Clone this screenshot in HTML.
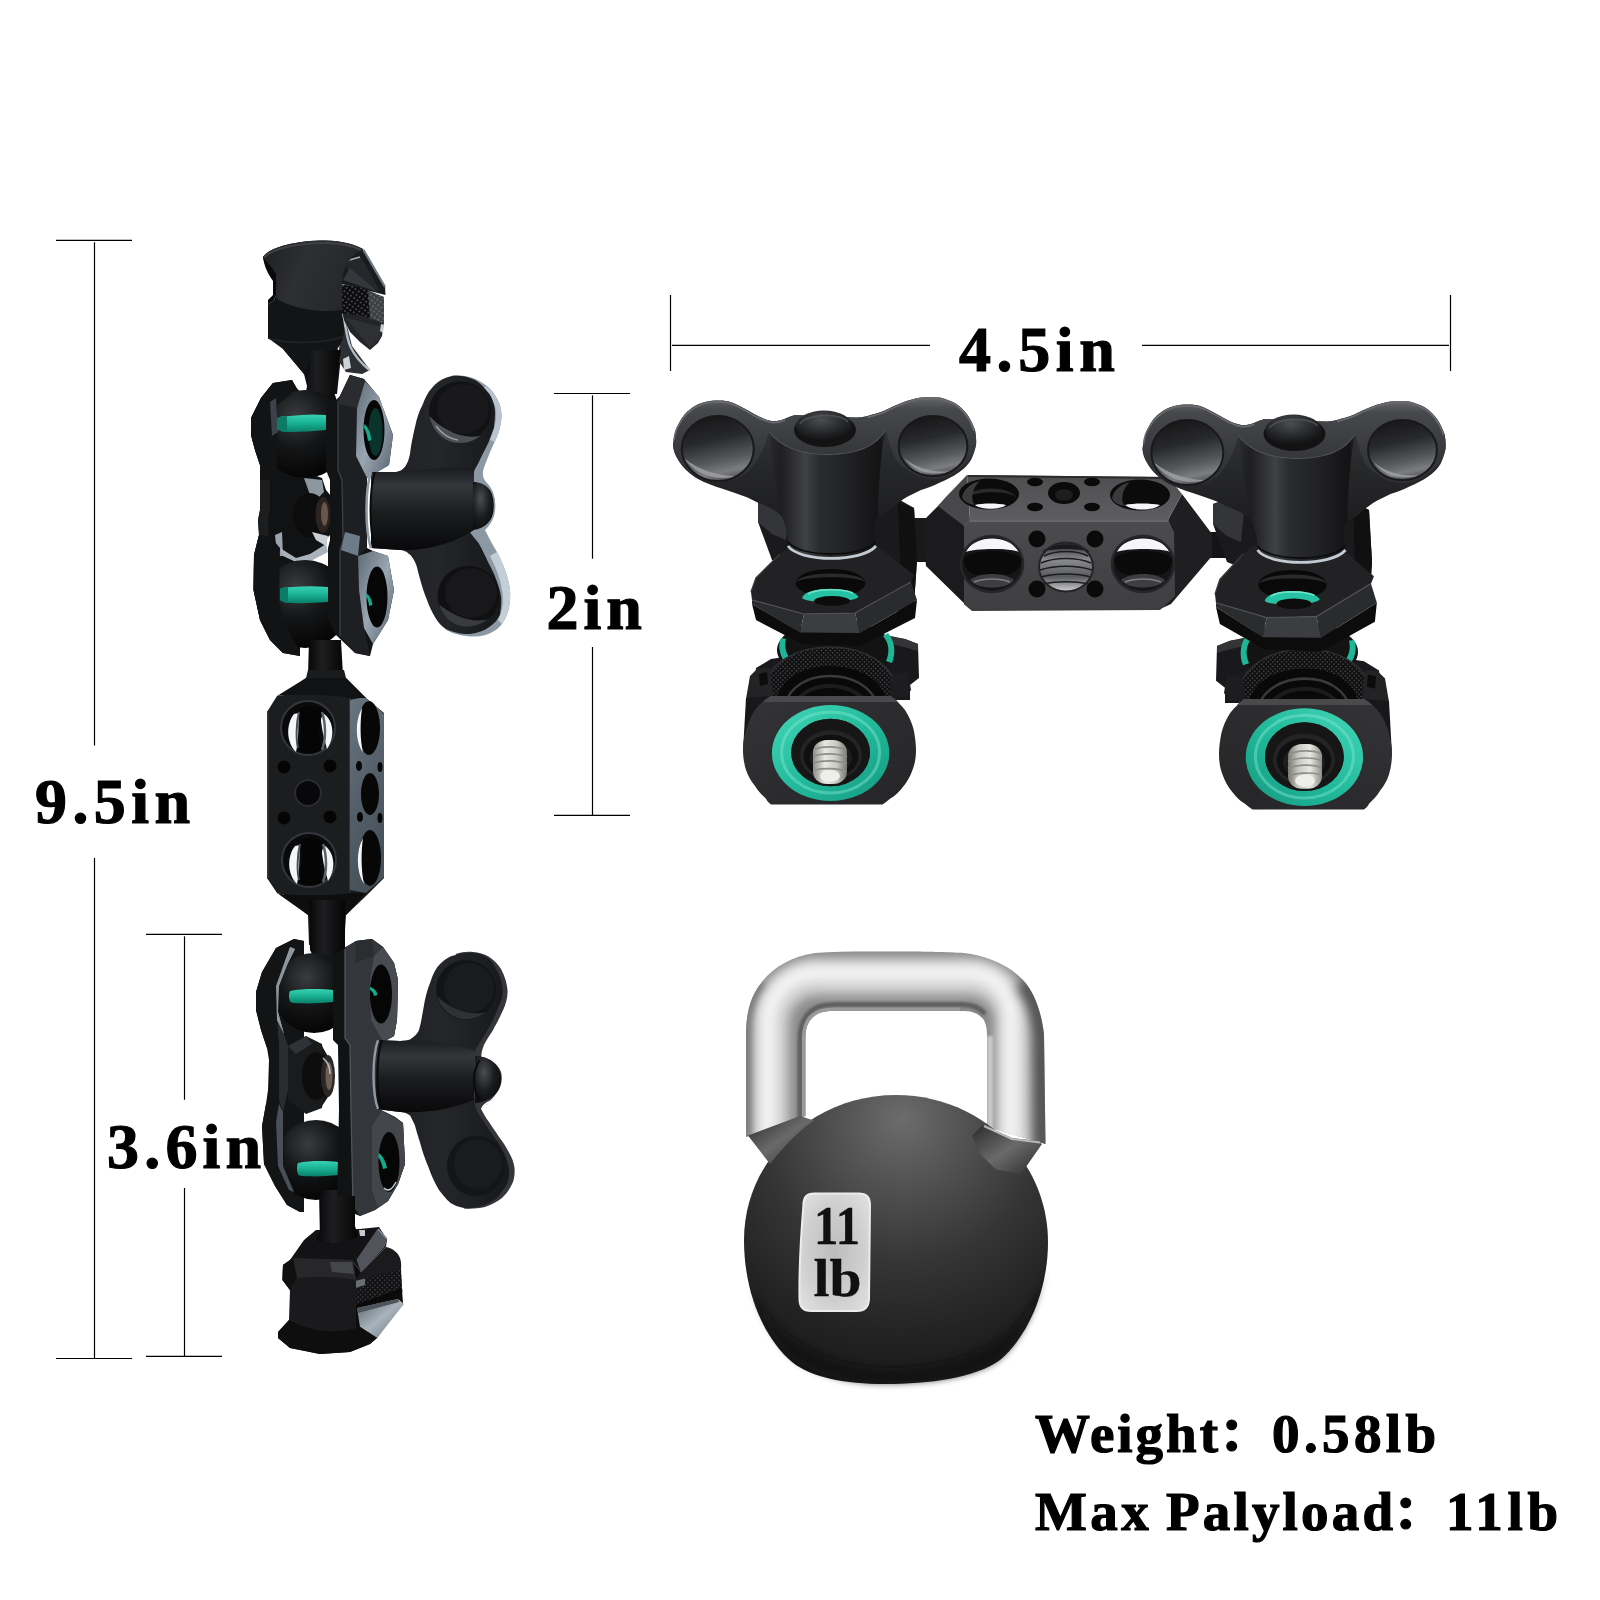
<!DOCTYPE html>
<html lang="en">
<head>
<meta charset="utf-8">
<title>Magic Arm Dimensions</title>
<style>
html,body{margin:0;padding:0;background:#fff;}
body{width:1600px;height:1600px;overflow:hidden;position:relative;}
svg{position:absolute;left:0;top:0;display:block;}
.t{font-family:"Liberation Serif","Noto Serif CJK SC",serif;font-weight:700;fill:#000;stroke:#000;stroke-width:1.2px;}
.klabel{font-weight:700;stroke-width:0.3px;fill:#111;}
.dim line{stroke:#000;stroke-width:1.2;}
</style>
</head>
<body>
<svg width="1600" height="1600" viewBox="0 0 1600 1600">
<rect width="1600" height="1600" fill="#fff"/>
<defs>
<linearGradient id="gBodyV" x1="0" y1="0" x2="1" y2="0">
<stop offset="0" stop-color="#0d0d0e"/><stop offset="0.35" stop-color="#2b2c2f"/><stop offset="0.7" stop-color="#1b1c1e"/><stop offset="1" stop-color="#0b0b0c"/>
</linearGradient>
<linearGradient id="gStem" x1="0" y1="0" x2="1" y2="0">
<stop offset="0" stop-color="#070708"/><stop offset="0.4" stop-color="#1d1e20"/><stop offset="0.75" stop-color="#101011"/><stop offset="1" stop-color="#050506"/>
</linearGradient>
<radialGradient id="gBall" cx="0.4" cy="0.3" r="0.7">
<stop offset="0" stop-color="#3a3c40"/><stop offset="0.5" stop-color="#151617"/><stop offset="1" stop-color="#050506"/>
</radialGradient>
<linearGradient id="gGreen" x1="0" y1="0" x2="0" y2="1">
<stop offset="0" stop-color="#37d2b3"/><stop offset="0.5" stop-color="#18b092"/><stop offset="1" stop-color="#0b7f69"/>
</linearGradient>
<linearGradient id="gPlateBack" x1="0" y1="0" x2="1" y2="0">
<stop offset="0" stop-color="#0e0e0f"/><stop offset="0.45" stop-color="#1e1f21"/><stop offset="0.62" stop-color="#3c4147"/><stop offset="0.75" stop-color="#17181a"/><stop offset="1" stop-color="#0a0a0b"/>
</linearGradient>
<linearGradient id="gPlateFront" x1="0" y1="0" x2="1" y2="0">
<stop offset="0" stop-color="#101011"/><stop offset="0.3" stop-color="#1a1b1d"/><stop offset="0.5" stop-color="#25272a"/><stop offset="1" stop-color="#1b1c1e"/>
</linearGradient>
<linearGradient id="gChamfer" x1="0" y1="0" x2="1" y2="1">
<stop offset="0" stop-color="#5d6973"/><stop offset="0.5" stop-color="#9aa7b3"/><stop offset="1" stop-color="#55616b"/>
</linearGradient>
<linearGradient id="gShaft" x1="0" y1="0" x2="0" y2="1">
<stop offset="0" stop-color="#1a1b1d"/><stop offset="0.22" stop-color="#34363a"/><stop offset="0.55" stop-color="#1b1c1e"/><stop offset="1" stop-color="#09090a"/>
</linearGradient>
<linearGradient id="gWing" x1="0" y1="0" x2="1" y2="0">
<stop offset="0" stop-color="#1d1e20"/><stop offset="0.5" stop-color="#25262a"/><stop offset="1" stop-color="#17181a"/>
</linearGradient>
<radialGradient id="gDish" cx="0.55" cy="0.4" r="0.6">
<stop offset="0" stop-color="#17181a"/><stop offset="0.75" stop-color="#131415"/><stop offset="1" stop-color="#222326"/>
</radialGradient>
<radialGradient id="gNub" cx="0.35" cy="0.35" r="0.8">
<stop offset="0" stop-color="#4a4d52"/><stop offset="0.5" stop-color="#1b1c1e"/><stop offset="1" stop-color="#070708"/>
</radialGradient>
<linearGradient id="gSilverFace" x1="0" y1="0" x2="1" y2="1">
<stop offset="0" stop-color="#59626a"/><stop offset="0.5" stop-color="#a9b3bb"/><stop offset="1" stop-color="#6a737b"/>
</linearGradient>
<pattern id="pKnurl" width="4" height="4" patternUnits="userSpaceOnUse" patternTransform="rotate(35)">
<rect width="4" height="4" fill="#0c0c0d"/><rect width="2" height="2" fill="#3c3f44"/>
</pattern>
<pattern id="pKnurl2" width="3.4" height="3.4" patternUnits="userSpaceOnUse" patternTransform="rotate(45)">
<rect width="3.4" height="3.4" fill="#111112"/><rect width="1.7" height="1.7" fill="#34363a"/>
</pattern>

<linearGradient id="tvShaft" x1="0" y1="0" x2="1" y2="0">
<stop offset="0" stop-color="#131314"/><stop offset="0.28" stop-color="#2e2f32"/><stop offset="0.45" stop-color="#3d3e41"/><stop offset="0.7" stop-color="#1f2022"/><stop offset="1" stop-color="#0d0d0e"/>
</linearGradient>
<linearGradient id="tvTop" x1="0" y1="0" x2="0" y2="1">
<stop offset="0" stop-color="#66676a"/><stop offset="0.14" stop-color="#47484b"/><stop offset="0.6" stop-color="#38393c"/><stop offset="1" stop-color="#2c2d2f"/>
</linearGradient>
<linearGradient id="tvDish" x1="0.2" y1="0" x2="0.45" y2="1">
<stop offset="0" stop-color="#151516"/><stop offset="0.4" stop-color="#28292b"/><stop offset="0.72" stop-color="#57585b"/><stop offset="0.9" stop-color="#7c7d80"/><stop offset="1" stop-color="#5a5b5e"/>
</linearGradient>
<radialGradient id="tvNub" cx="0.45" cy="0.3" r="0.75">
<stop offset="0" stop-color="#4c4d50"/><stop offset="0.6" stop-color="#232426"/><stop offset="1" stop-color="#0c0c0d"/>
</radialGradient>
<linearGradient id="tvFace" x1="0" y1="0" x2="1" y2="1">
<stop offset="0" stop-color="#343436"/><stop offset="0.5" stop-color="#2c2c2e"/><stop offset="1" stop-color="#252527"/>
</linearGradient>
<linearGradient id="tvGreen" x1="0" y1="0" x2="1" y2="1">
<stop offset="0" stop-color="#45d6b8"/><stop offset="0.5" stop-color="#22bb9c"/><stop offset="1" stop-color="#169a80"/>
</linearGradient>
<linearGradient id="tvScrew" x1="0" y1="0" x2="1" y2="0">
<stop offset="0" stop-color="#8d8d8a"/><stop offset="0.35" stop-color="#e9e9e4"/><stop offset="0.7" stop-color="#c9c9c3"/><stop offset="1" stop-color="#77776f"/>
</linearGradient>
<linearGradient id="tvThread" x1="0" y1="0" x2="0" y2="1">
<stop offset="0" stop-color="#2a2a2c"/><stop offset="0.35" stop-color="#8a8b8d"/><stop offset="0.7" stop-color="#5a5b5d"/><stop offset="1" stop-color="#cfd0d2"/>
</linearGradient>
<linearGradient id="tvBarTop" x1="0" y1="0" x2="0" y2="1">
<stop offset="0" stop-color="#4e4e50"/><stop offset="1" stop-color="#5e5e60"/>
</linearGradient>
<linearGradient id="tvBarFront" x1="0" y1="0" x2="0" y2="1">
<stop offset="0" stop-color="#4c4c4e"/><stop offset="1" stop-color="#3e3e40"/>
</linearGradient>
<pattern id="pKnurl3" width="3.2" height="3.2" patternUnits="userSpaceOnUse" patternTransform="rotate(45)">
<rect width="3.2" height="3.2" fill="#0e0e0f"/><rect width="1.7" height="1.7" fill="#3a3b3e"/>
</pattern>
<linearGradient id="kHandle" x1="0" y1="0" x2="1" y2="0">
<stop offset="0" stop-color="#8f8f8f"/><stop offset="0.12" stop-color="#d9d9d9"/><stop offset="0.3" stop-color="#f4f4f4"/><stop offset="0.6" stop-color="#e2e2e2"/><stop offset="0.85" stop-color="#a4a4a4"/><stop offset="1" stop-color="#6d6d6d"/>
</linearGradient>
<linearGradient id="kHandleV" x1="0" y1="0" x2="0" y2="1">
<stop offset="0" stop-color="#ffffff" stop-opacity="0.7"/><stop offset="0.25" stop-color="#ffffff" stop-opacity="0"/><stop offset="0.6" stop-color="#000000" stop-opacity="0"/><stop offset="1" stop-color="#000000" stop-opacity="0.35"/>
</linearGradient>
<radialGradient id="kBall" cx="0.52" cy="0.18" r="0.9" fx="0.52" fy="0.08">
<stop offset="0" stop-color="#6c6c6c"/><stop offset="0.25" stop-color="#505050"/><stop offset="0.5" stop-color="#353535"/><stop offset="0.75" stop-color="#232323"/><stop offset="1" stop-color="#151515"/>
</radialGradient>
<radialGradient id="kLabel" cx="0.5" cy="0.5" r="0.75">
<stop offset="0" stop-color="#bdbdbd"/><stop offset="0.55" stop-color="#cfcfcf"/><stop offset="1" stop-color="#e6e6e6"/>
</radialGradient>
<linearGradient id="kCollar" x1="0" y1="0" x2="1" y2="1">
<stop offset="0" stop-color="#2a2a2a"/><stop offset="0.5" stop-color="#6a6a6a"/><stop offset="1" stop-color="#2c2c2c"/>
</linearGradient>

<linearGradient id="tvWingBase" x1="0" y1="0" x2="0" y2="1">
<stop offset="0" stop-color="#3a3b3e"/><stop offset="0.45" stop-color="#262729"/><stop offset="1" stop-color="#161617"/>
</linearGradient>
<linearGradient id="tvHub" gradientUnits="userSpaceOnUse" x1="766" y1="0" x2="889" y2="0">
<stop offset="0" stop-color="#1c1c1e" stop-opacity="0"/><stop offset="0.12" stop-color="#1e1e20" stop-opacity="0.9"/><stop offset="0.22" stop-color="#2e2f31"/><stop offset="0.32" stop-color="#404144"/><stop offset="0.44" stop-color="#2a2b2d"/><stop offset="0.64" stop-color="#222325"/><stop offset="0.84" stop-color="#18181a"/><stop offset="0.93" stop-color="#111112" stop-opacity="0.9"/><stop offset="1" stop-color="#111112" stop-opacity="0"/>
</linearGradient>
<linearGradient id="gCap" x1="0" y1="0" x2="1" y2="0.3">
<stop offset="0" stop-color="#1e1f21"/><stop offset="0.45" stop-color="#2e2f32"/><stop offset="1" stop-color="#26272a"/>
</linearGradient>
<linearGradient id="gBarSide" x1="0" y1="0" x2="0.3" y2="1">
<stop offset="0" stop-color="#687580"/><stop offset="0.5" stop-color="#56616b"/><stop offset="1" stop-color="#47515a"/>
</linearGradient>
<!--MOREDEFS-->
</defs>

<g id="arm-topshoe">
<!-- stem from shoe to upper ball -->
<path d="M283,349 L304,374 L309,394 L337,394 L341,356 L332,338 Z" fill="#0f0f11"/>
<!-- lower plate region between stem and silver edge -->
<path d="M340,340 L346,322 L352,346 L370,370 L362,374 L346,372 L338,360 Z" fill="#2c2f33"/>
<path d="M344.500,319 C346,332 348,342 351,348 C356,358 362,364 369.500,370" fill="none" stroke="#b4bec7" stroke-width="2.400"/>
<path d="M343,359 L349,356 L351,368 L344,370 Z" fill="#cdd4da"/>
<!-- cone under knurl -->
<path d="M342,312 L360,313 L384,322 L382,336 L378,343 L370,350 L360,342 L350,332 L344,320 Z" fill="#232427"/>
<path d="M346,318 L382,327 L380,338 L370,348 Z" fill="#2e3033"/>
<path d="M381,324 L384,325 L383,333 L380,331 Z" fill="#c5ccd2"/>
<!-- upper slanted plate -->
<path d="M363,249 L385,286 L385.500,295 L342,284 L342,270 L350,255 Z" fill="#1a1b1d"/>
<path d="M346,262 L361,257 L380,291 L350,282 Z" fill="#25272a"/>
<path d="M363.500,250 L385,287" stroke="#6d7781" stroke-width="2.200" fill="none"/>
<path d="M346,261 L360,257" stroke="#a9b2ba" stroke-width="1.500" fill="none"/>
<path d="M343,280 L350,268 L378,292 Z" fill="#34373b"/>
<!-- knurled knob -->
<path d="M342,284.500 L360,287 L384,297 L384,323.500 L360,315 L342,314 Z" fill="url(#pKnurl)"/>
<path d="M368,290.500 L384,297 L384,323.500 L370,318.500 Z" fill="#aeb6bd" opacity="0.300"/>
<!-- main body -->
<path d="M263,257 C270,247 296,240.500 325,240.500 C342,240.500 356,245 363,249 C356,252 350,258 346,266 C343,272 342,278 342,284 L342,314 C344,322 345,330 343,338 C340,346 336,352 330,356 L312,356 L304,374 L283,349 L268,338 L268,304.500 L274,300 L276.500,294 L276,280 C270,272 265,264 263,257 Z" fill="#131416"/>
<!-- cap lighter -->
<path d="M263,257 C270,247 296,240.500 325,240.500 C342,240.500 356,245 363,249 C356,252 350,258 346,266 C343,272 342,278 342,284 L342,310 C330,311.500 318,311.500 306,309 C294,307 284,303 277,299 L276.500,294 L276,280 C270,272 265,264 263,257 Z" fill="url(#gCap)"/>
<path d="M264,257.500 C272,249 296,243 325,243 C342,243 354,246.500 361,250" fill="none" stroke="#3f4145" stroke-width="2"/>
<!-- left slot shading -->
<path d="M263,257 C266,262 272,266 276,274 L276.500,294 L274,300 L268,304.500 L268,300 L273,295 L273,281 C268,274 264,266 263,257 Z" fill="#09090a"/>
<!-- bottom edge curve of lower body -->
<path d="M268,338 C284,344 320,344 343,337" fill="none" stroke="#232427" stroke-width="1.500"/>
</g>
<g id="arm-clamp1">
<!-- back plate -->
<path d="M273,383 L292,380 L296,387 L300,392 L300,470 L322,478 L326,490 L331,496 L331,534 L327,538 L326,546 L300,560 L300,656 L283,653 L270,640 L260,620 L253.500,590 L254,555 L259,535 L258,520 L260,510 L260,465 L255,450 L251,435 L251,418 L261,398 Z" fill="#111213"/>
<!-- bevel highlights on back plate -->
<path d="M273,383 L261,398 L251,418 L251,435 L255,450 L260,465 L260,510 L258,520 L259,535 L254,555 L253.500,590 L260,620 L270,640 L283,653 L288,647 L277,632 L268,612 L263,588 L264,556 L269,536 L268,520 L270,508 L270,466 L265,450 L261,434 L261,420 L270,402 L280,388 Z" fill="#1c1d1f"/>
<path d="M270,402 L276,398 L278,432 L272,436 Z" fill="#3d4248"/>
<path d="M275,535 L282,532 L283,556 L277,556 Z" fill="#9aa4ae"/>
<path d="M280,548 L296,558 L310,554 L326,544 L328,552 L305,564 L296,562 L283,556 Z" fill="#aab3bc"/>
<path d="M304,478 L322,480 L324,492 L316,500 L310,495 Z" fill="#8e969e"/>
<!-- stem from shoe into ball -->
<path d="M311,350 L341,350 L338,368 L334,392 L338,404 L300,404 L306,392 L310,368 Z" fill="url(#gStem)"/>
<!-- balls -->
<circle cx="305" cy="434" r="44" fill="url(#gBall)"/>
<circle cx="305" cy="604" r="44" fill="url(#gBall)"/>
<!-- re-cover left part of balls with back plate edge -->
<path d="M273,383 L261,398 L251,418 L251,435 L255,450 L260,465 L260,480 L277,480 L277,405 L290,395 L296,387 L292,380 Z" fill="#121314"/>
<path d="M270,402 L276,398 L278,432 L272,436 Z" fill="#3d4248"/>
<path d="M259,535 L254,555 L253.500,590 L260,620 L270,640 L283,653 L300,656 L300,650 L292,638 L282,615 L279,600 L280,548 L270,536 Z" fill="#121314"/>
<!-- center ball / nut -->
<ellipse cx="310" cy="515" rx="17" ry="22" fill="#0c0c0d"/>
<ellipse cx="323" cy="515" rx="7.500" ry="18" fill="#2a2320"/>
<ellipse cx="324.500" cy="514" rx="3.500" ry="12" fill="#6a564b"/>
<path d="M312,532 L328,536 L326,546 L316,540 Z" fill="#c8cfd5"/>
<!-- green rings -->
<path d="M277,419 C280,416 284,416.500 290,416 C302,414.500 314,414 326,415 L326,430 C314,431 302,432 290,432 C284,432 280,431.500 277,429 Z" fill="url(#gGreen)"/>
<path d="M277,419 C280,416 284,416.500 287,416.300 L287,432 C284,432 280,431.500 277,429 Z" fill="#0b7a66"/>
<path d="M280,589 C283,587 287,587.500 292,587 C304,586 316,586 328,587 L328,602 C316,603 304,603.500 292,603 C287,603 283,602 280,600 Z" fill="url(#gGreen)"/>
<path d="M280,589 C283,587 286,587.500 288,587.300 L288,603 C285,603 283,602 280,600 Z" fill="#0b7a66"/>
<!-- stem below clamp to cheese bar -->
<path d="M309,640 L341,640 L343,676 L308,676 Z" fill="url(#gStem)"/>
<!-- front plate -->
<path d="M326,400 L336,400 L340,396 L350,375 L364,379 L379,397 L393,435 L389,465 L367,478 L367,548 L373,551 L388,556 L394,590 L388,620 L373,644 L370,656 L355,653 L336,635 L328,620 L328,548 L330,540 L330,480 L326,470 Z" fill="#121314"/>
<!-- inner dark face band -->
<path d="M338,400 L340,396 L350,375 L364,379 L357,408 L356,456 L367,478 L367,548 L358,556 L359,590 L364,628 L370,656 L355,653 L340,636 L340,550 L343,540 L342,480 L338,470 Z" fill="#1d1f22"/>
<path d="M338,401 L338,470 L342,480 L343,540 L340,550 L340,636" fill="none" stroke="#3b4046" stroke-width="1.300"/>
<!-- upper dark chamfer above hex -->
<path d="M340,396 L350,375 L365,380 L357,408 L338,404 Z" fill="#2a2c30"/>
<path d="M341,550 L345,532 L360,536 L358,556 Z" fill="#6e7c89"/>
<!-- silver hex facets -->
<path d="M357,408 L365,381 L379,397 L393,435 L389,465 L367,478 L356,456 Z" fill="url(#gChamfer)"/>
<path d="M358,556 L373,551 L388,556 L394,590 L388,620 L373,644 L364,628 L359,590 Z" fill="url(#gChamfer)"/>
<!-- holes -->
<ellipse cx="374" cy="430" rx="10.500" ry="30" fill="#070708"/>
<ellipse cx="375.500" cy="432" rx="7" ry="24" fill="#0a332b"/>
<path d="M364.500,424 C368,427 370.500,432 371.500,440 L368,441 C367,434 365.500,430 363.800,428 Z" fill="#17a88b"/>
<ellipse cx="377" cy="597" rx="10.500" ry="30.500" fill="#060607"/>
<path d="M366.500,593 C370,596 372,600 372.500,605 L369,606 C368.500,601 367.500,598 366,597 Z" fill="#17a88b"/>
</g>
<g id="arm-knob1">
<!-- silver bevel (behind) -->
<path d="M452,375.500 C462,374 476,377 487,386 C496,394 501,404 501.500,414 C502,424 498,436 494.500,442 C490,452 486,462 483.500,469 C482,474 483,478 486,482 C493,488 495,498 494.500,508 C494,518 490,526 485,530 C488,536 492,544 497,552 C502,562 508,574 510,590 C511,604 508,616 502,624 C496,632 486,636 476,636.500 C466,637 452,634 445,629 L452,375.500 Z" fill="#8c98a3"/>
<path d="M486,386 C496,394 501,404 501.500,414 C502,424 498,436 494.500,442 L490,440 C494,430 497,420 496,412 C495,402 490,394 483,388 Z" fill="#b9c4ce"/>
<path d="M497,552 C502,562 508,574 510,590 C511,604 508,616 502,624 L498,620 C503,610 504,600 502,590 C500,576 494,564 490,556 Z" fill="#c4ced7"/>
<!-- wing face -->
<path d="M371,472 L396,472 C404,471 408,464 410,454 C411,444 413,436 415,427 C417,418 419,411 422.500,405 C425,398 428,392 431.500,388.500 C435,384 438,382 442,379.500 C446,377.500 449,376.500 452.500,376 C460,375 468,376.500 475,380 C480,383 483,386 486,390 C490,394 492,398 493,402 C494.500,405 495,409 495,412.500 C495,418 494.500,422 494,427.500 C492,433 490,438 488.500,442.500 C486,448 483,453 481,457.500 C479,462 477,466 475,469 C473,474 473,478 474,482 L474,528 C471,530 470,531 469,531 C472,535 475,539 478.500,543 C482,549 485,555 488,562 C491,568 494,573 496,579 C498,585 500,590 501,596.500 C501.500,603 501,609 500,614.500 C498,619 495,623 490,626.500 C484,631 478,633 470,634 C462,634.500 452,632 445,628.500 C441,626 438,622 435.500,618 C432,612 429,606 427,600 C424,593 422,586 420,579 C418,572 417,566 415,562 C413,558 411,555 409,554 C406,551 403,550 400,550 L371,548 Z" fill="url(#gWing)"/>
<!-- cylinder shading across the middle -->
<path d="M371,472 L396,472 C420,470 450,466 474,468 L474,530 C450,546 420,551 400,550 L371,548 Z" fill="url(#gShaft)"/>
<!-- light ring at plate -->
<path d="M371,472 C365,490 365,530 371,548" fill="none" stroke="#8f9aa4" stroke-width="2.500"/>
<path d="M375,472 C369,490 369,530 375,548" fill="none" stroke="#0a0a0b" stroke-width="2"/>
<!-- dishes -->
<ellipse cx="460" cy="411.500" rx="31" ry="30" fill="#111213"/>
<ellipse cx="463" cy="409" rx="26" ry="25" fill="#19191b"/>
<path d="M429.500,416 C432,430 442,440 454,442.500 C466,444 474,441 480,436 C470,438 458,436 448,430 C440,426 434,421 429.500,416 Z" fill="#4d5055"/>
<path d="M436,426 C442,434 450,439 458,440" fill="none" stroke="#9aa0a7" stroke-width="1.400"/>
<ellipse cx="468.500" cy="596" rx="31" ry="30" fill="#101011"/>
<ellipse cx="471" cy="593" rx="26" ry="25" fill="#18181a"/>
<path d="M439,604 C442,616 452,625 464,626.500 C474,627 482,624 488,619 C478,622 466,620 456,615 C448,611 442,607 439,604 Z" fill="#393b3f"/>
<!-- nub -->
<path d="M473,482 C486,482 495,492 495,505 C495,518 486,529 473,530 Z" fill="url(#gNub)"/>
<path d="M488,486 C496,494 497,514 489,524" fill="none" stroke="#8f9aa4" stroke-width="1.600"/>
</g>
<g id="arm-bar">
<!-- bar silhouette -->
<path d="M308,670 L344,670 L346,678 L366,698 L384,713 L384,878 L366,896 L346,915 L344,945 L309,945 L308,915 L290,900 L267,878 L267,712 L290,690 L306,678 Z" fill="#1a1b1d"/>
<!-- side face -->
<path d="M350,700 L365,697 L384,714 L384,877 L366,893 L350,890 Z" fill="url(#gBarSide)"/>
<path d="M349,698 L349,893" stroke="#3a3d42" stroke-width="1.5"/>
<!-- front face -->
<path d="M277,696 C280,694 340,694 349,698 L349,893 C340,896 282,896 277,893 L267,878 L267,712 Z" fill="#1c1d1f"/>
<path d="M268,712 L268,878" stroke="#2e3034" stroke-width="2"/>
<!-- top taper shading -->
<path d="M306,678 L346,678 L366,698 L349,698 C340,694 280,694 277,696 Z" fill="#111213"/>
<path d="M277,893 C282,896 340,896 349,893 L366,893 L346,915 L308,915 Z" fill="#0e0e0f"/>
<!-- front big holes -->
<circle cx="308" cy="728" r="27" fill="#0a0a0b"/>
<circle cx="308" cy="728" r="27" fill="none" stroke="#34373b" stroke-width="2"/>
<path d="M294,714 C286,724 286,742 296,752 C299,740 298,724 299,713 Z" fill="#f4f6f8"/>
<path d="M320,712 C332,716 337,734 327,749 C323,736 321,724 320,712 Z" fill="#f4f6f8"/>
<path d="M299,710 C304,704 318,704 324,712 C318,722 318,738 322,750 C314,754 302,754 297,748 C302,738 302,722 299,710 Z" fill="#050506"/>
<path d="M322,712 C326,724 326,740 322,750" fill="none" stroke="#5a626a" stroke-width="2.5"/>
<path d="M299,712 C296,724 296,740 298,748" fill="none" stroke="#4a5158" stroke-width="2"/>
<circle cx="309" cy="860" r="27" fill="#0a0a0b"/>
<circle cx="309" cy="860" r="27" fill="none" stroke="#34373b" stroke-width="2"/>
<path d="M295,846 C287,856 287,874 297,884 C300,872 299,856 300,845 Z" fill="#f4f6f8"/>
<path d="M321,844 C333,848 338,866 328,881 C324,868 322,856 321,844 Z" fill="#f4f6f8"/>
<path d="M300,842 C305,836 319,836 325,844 C319,854 319,870 323,882 C315,886 303,886 298,880 C303,870 303,854 300,842 Z" fill="#050506"/>
<path d="M323,844 C327,856 327,872 323,882" fill="none" stroke="#5a626a" stroke-width="2.5"/>
<path d="M300,844 C297,856 297,872 299,880" fill="none" stroke="#4a5158" stroke-width="2"/>
<!-- small holes -->
<circle cx="284" cy="767" r="6.5" fill="#050506"/><circle cx="330" cy="766" r="6.5" fill="#050506"/>
<circle cx="284" cy="818" r="6.5" fill="#050506"/><circle cx="330" cy="817" r="6.5" fill="#050506"/>
<circle cx="308" cy="793" r="14" fill="#08080a"/>
<circle cx="308" cy="793" r="13" fill="none" stroke="#2b2d30" stroke-width="2"/>
<!-- side holes -->
<ellipse cx="369" cy="728" rx="11" ry="27" fill="#070708"/>
<path d="M362,708 C355,720 355,742 363,752 C360,740 360,722 362,708 Z" fill="#f4f6f8"/>
<ellipse cx="370" cy="794" rx="9" ry="21" fill="#070708"/>
<ellipse cx="370" cy="858" rx="11" ry="28" fill="#070708"/>
<path d="M363,838 C356,850 356,872 364,884 C361,870 361,852 363,838 Z" fill="#f4f6f8"/>
<ellipse cx="359" cy="766" rx="3" ry="5" fill="#050506"/><ellipse cx="380" cy="767" rx="2.5" ry="5" fill="#050506"/>
<ellipse cx="360" cy="817" rx="3" ry="5" fill="#050506"/><ellipse cx="380" cy="818" rx="2.5" ry="5" fill="#050506"/>
</g>
<g id="arm-clamp2">
<!-- stem above -->
<path d="M309,900 L345,900 L345,950 L340,958 L314,958 L310,950 Z" fill="url(#gStem)"/>
<!-- back plate -->
<path d="M294,939 L304,941 L304,1040 L322,1046 L330,1060 L332,1076 L330,1094 L322,1106 L304,1112 L304,1212 L300,1212 L287,1205 L275,1186 L264,1164 L262,1126 L266,1104 L268,1090 L269,1060 L267,1048 L261,1030 L256,1010 L256,992 L262,972 L276,948 Z" fill="#131415"/>
<!-- light inner bevel strips -->
<path d="M290,947 L295,949 L288,963 L279,986 L278,1012 L284,1034 L277,1020 L276,986 Z" fill="#8d959d"/>
<path d="M277,1020 L284,1034 L288,1046 L288,1090 L283,1112 L281,1128 L276,1122 L279,1100 L279,1050 Z" fill="#2a2d30"/>
<path d="M276,1122 L281,1128 L283,1166 L294,1192 L287,1190 L277,1166 Z" fill="#5b6269"/>
<!-- boss -->
<path d="M288,1046 L306,1036 L322,1044 L326,1076 L322,1108 L306,1114 L288,1100 Z" fill="#1a1b1d"/>
<path d="M288,1046 L306,1036 L312,1044 L296,1054 Z" fill="#2f3236"/>
<!-- balls -->
<circle cx="314" cy="993" r="40" fill="url(#gBall)"/>
<circle cx="316" cy="1160" r="40" fill="url(#gBall)"/>
<!-- plate covering left part of balls -->
<path d="M294,939 L276,948 L262,972 L256,992 L256,1010 L261,1030 L267,1048 L279,1048 L277,1020 L276,986 L290,947 L304,941 Z" fill="#131415"/>
<path d="M290,947 L295,949 L288,963 L279,986 L278,1012 L284,1034 L277,1020 L276,986 Z" fill="#8d959d"/>
<path d="M266,1104 L262,1126 L264,1164 L275,1186 L287,1205 L300,1212 L304,1212 L296,1196 L286,1172 L283,1130 L283,1112 L279,1100 Z" fill="#131415"/>
<path d="M279,1104 L283,1112 L283,1166 L294,1192 L289,1190 L278,1166 L276,1122 Z" fill="#4a5057"/>
<!-- nut -->
<ellipse cx="316" cy="1076" rx="14" ry="24" fill="#0d0d0e"/>
<ellipse cx="328" cy="1076" rx="7" ry="21" fill="#2b2724"/>
<ellipse cx="329" cy="1076" rx="3.500" ry="14" fill="#6b5d52"/>
<path d="M323,1058 C328,1062 330,1068 330,1074" stroke="#b9c0c6" stroke-width="1.500" fill="none"/>
<!-- green rings -->
<path d="M290,991 C302,988.500 320,988.500 333,990 L333,1002 C320,1003.500 302,1004 291,1002.500 C288.500,1000 288.500,994 290,991 Z" fill="url(#gGreen)"/>
<path d="M298,1163 C309,1160.500 326,1160.500 338,1162 L338,1175 C326,1176.500 309,1177 299,1175.500 C296.500,1173 296.500,1166 298,1163 Z" fill="url(#gGreen)"/>
<!-- stem below -->
<path d="M319,1190 L354,1190 L354,1240 L320,1240 Z" fill="url(#gStem)"/>
<!-- front plate -->
<path d="M333,956 L344,948 L356,941 L372,939 L383,947 L394,963 L398,980 L397,1020 L394,1036 L383,1042 L379,1042 L379,1109 L395,1117 L403,1123 L405,1164 L398,1184 L388,1201 L375,1210 L360,1216 L345,1210 L337,1201 L339,1110 L338,1045 L333,1040 Z" fill="#111213"/>
<path d="M345,948 L356,941 L372,939 L383,947 L394,963 L398,980 L397,1020 L394,1036 L383,1042 L379,1042 L379,1109 L395,1117 L403,1123 L405,1164 L398,1184 L388,1201 L375,1210 L360,1216 L353,1206 L351,1110 L350,1045 L345,1038 Z" fill="#33363a"/>
<path d="M345,949 L345,1038 L350,1045 L351,1110 L353,1206" fill="none" stroke="#50545a" stroke-width="1.300"/>
<path d="M356,941 L372,939 L374,956 L355,963 Z" fill="#2b2e31"/>
<path d="M374,956 L383,947 L394,963 L398,980 L397,1020 L394,1036 L383,1042 L371,1020 L370,980 Z" fill="#484b50"/>
<path d="M372,1126 L382,1111 L403,1123 L405,1164 L398,1184 L388,1201 L378,1208 L372,1190 Z" fill="#43464b"/>
<!-- holes -->
<ellipse cx="381" cy="994" rx="11" ry="29.500" fill="#060607"/>
<path d="M370,987 C374,988 377,991 377.500,995 L374,996 C373.500,993 372,991 370,990 Z" fill="#17a88b"/>
<ellipse cx="389" cy="1162" rx="10.500" ry="30" fill="#060607"/>
<path d="M379,1153 C383,1156 386,1162 387,1168 L383,1169 C382,1164 380,1159 378,1157 Z" fill="#17a88b"/>
<path d="M384,1188 C388,1192 392,1190 396,1182" stroke="#c5ccd2" stroke-width="1.400" fill="none"/>
</g>
<g id="arm-knob2">
<!-- lighter rim behind -->
<path d="M455.700,954 C462,952 467,951.500 473,952 C479,952.500 484,954 488.500,956.500 C494,960 498,964 501,969 C505,976 507,984 507.500,990 C508,998 505,1007 501,1014.500 C498,1021 495,1026 492.500,1031 C489,1036 486,1041 484,1045 C482,1050 481,1054 481.500,1057 C490,1058 498,1064 501,1072 C503,1080 501,1088 496,1094 C493,1098 490,1101 487,1102 C484,1104 482,1106 481,1108.700 C483,1113 486,1118 489,1122 C492,1127 496,1132 499,1137 C503,1142 506,1147 509,1152.600 C512,1158 514,1163 514.500,1168 C515,1174 514,1180 512.500,1183 C510,1189 506,1194 502,1198 C497,1202 491,1205 485,1207 C478,1208.500 471,1209 464,1208.500 L455.700,954 Z" fill="#34363a"/>
<!-- wing face -->
<path d="M376,1040 L400,1041 C404,1041 408,1040.500 410,1039.600 C414,1037 417,1034 418.600,1031 C421,1024 422,1016 423.600,1007.500 C425,999 427,990 430.400,982 C433,974 436,968 440.500,963.600 C445,959 450,956 455.700,955 C461,953.500 467,952.700 472.600,952.700 C477,953 482,954 486,956.900 C490,959 493,962 496,968.700 C499,974 501,979 502,983.900 C503,988 503,993 502,997.400 C500,1003 498,1009 495.600,1014 C493,1020 490,1026 487,1031 C484,1036 481,1041 478.700,1044.600 C476,1048 474.500,1052 474,1054.700 C473.500,1060 473.500,1064 474,1068 L474,1098 C474.500,1102 475,1105 476,1108.700 C478,1113 481,1118 484,1122 C487,1127 491,1132 494,1137 C498,1142 501,1147 504,1152.600 C506,1158 508,1163 509,1167.800 C509.500,1173 509,1178 507.400,1183 C505,1188 501,1193 497,1198 C492,1202 486,1204.500 480.400,1206.600 C474,1208 468,1208.500 464,1208 C458,1207 454,1205 450.600,1203 C446,1199 442,1194 438.800,1189.700 C435,1183 431,1175 428.700,1167.800 C425,1159 422,1150 420,1142.500 C418,1136 416,1130 415,1125.600 C413,1121 411,1117 410,1115.500 C407,1113 403,1112 400,1112 L376,1109 Z" fill="url(#gWing)"/>
<!-- cylinder shading -->
<path d="M376,1040 L400,1041 C425,1040 450,1042 474,1050 L474,1100 C450,1110 425,1113 400,1112 L376,1109 Z" fill="url(#gShaft)"/>
<path d="M378,1040 C372,1058 372,1092 378,1109" fill="none" stroke="#8f9aa4" stroke-width="2.400"/>
<path d="M382,1040 C376,1058 376,1092 382,1109" fill="none" stroke="#0a0a0b" stroke-width="2"/>
<!-- dishes -->
<ellipse cx="466" cy="990" rx="30" ry="30" fill="#131415"/>
<ellipse cx="469" cy="988" rx="25" ry="25" fill="#1a1b1d"/>
<path d="M437,996 C440,1008 450,1017 462,1019 C472,1020 480,1017 486,1012 C476,1015 464,1013 454,1008 C446,1004 440,999 437,996 Z" fill="#2f3134"/>
<ellipse cx="476" cy="1166" rx="29" ry="30" fill="#141516"/>
<ellipse cx="478" cy="1164" rx="24" ry="25" fill="#1a1b1d"/>
<!-- nub -->
<path d="M475,1056 C490,1056 501,1066 501,1079 C501,1092 490,1102 475,1103 Z" fill="url(#gNub)"/>
<path d="M480,1060 C472,1070 472,1090 480,1100" fill="none" stroke="#0b0b0c" stroke-width="2"/>
<circle cx="487" cy="1104" r="1.600" fill="#e8ecef"/>
</g>
<g id="arm-botshoe">
<path d="M353,1262 L361,1272 L386,1250 L400,1258 L402,1290 L403,1303 L377,1338 L356,1327 Z" fill="#0c0c0d"/>
<!-- knob top disc -->
<path d="M360,1273 L386,1247 C392,1248 397,1252 399,1256 C401,1260 401.500,1264 401,1269 L355,1281 Z" fill="#1b1b1d"/>
<!-- top plate (dark) -->
<path d="M304,1240 L316,1230 L360,1229 L379,1227 L387,1239 L386,1247 L361,1272 L353,1262 L290,1260 Z" fill="#131315"/>
<!-- gray slanted right face of plate -->
<path d="M377.500,1229 L386.500,1239 L385.500,1246 L361,1272.500 L356.500,1259.500 Z" fill="#51555b"/>
<path d="M378,1229 L387,1239" stroke="#8b949c" stroke-width="1.400" fill="none"/>
<path d="M359,1230 L365,1230 L365,1236 L360,1236 Z" fill="#c3cad1"/>
<!-- stem with flare -->
<path d="M321,1196 L355,1196 L355,1226 L358,1236 C350,1244 326,1245 316,1240 L321,1228 Z" fill="url(#gStem)"/>
<!-- knurl -->
<path d="M355,1281 L378,1275 L401,1269 L402,1288 L378,1297 L356,1305 Z" fill="url(#pKnurl2)"/>
<path d="M355,1281 L365,1278.500 L365,1285 L355.500,1288 Z" fill="#6a6d71"/>
<path d="M356,1305 L402,1288 L402.500,1292 L357,1309 Z" fill="#0a0a0b"/>
<!-- silver face -->
<path d="M357,1308 L398,1299 L404,1304 L377,1338 L360,1327 Z" fill="url(#gSilverFace)"/>
<path d="M357,1308 L398,1299 L399,1302 L358,1313 Z" fill="#4e545b"/>
<!-- body -->
<path d="M293,1258 L353,1260 L356,1280 L356,1327 L360,1327 L377,1338 L370,1344 L350,1352 L320,1354 L290,1348 L278,1338 L278,1332 L289,1320 L290,1290 L282.500,1280 L283,1265 Z" fill="#1a1a1c"/>
<!-- bevel band -->
<path d="M293,1258 L353,1260 L356,1280 C340,1277 318,1276 297,1278 L290,1290 L282.500,1280 L283,1265 Z" fill="#27272a"/>
<path d="M330,1262 L352,1262 L354,1274 L332,1272 Z" fill="#4c4d50" opacity="0.800"/>
<path d="M283,1265 L293,1258 L297,1278 L290,1290 L282.500,1280 Z" fill="#101011"/>
<!-- base flange -->
<path d="M289,1320 L278,1332 L278,1338 L290,1348 L320,1354 L350,1352 L370,1344 L377,1338 L360,1327 C340,1334 312,1333 289,1320 Z" fill="#0e0e0f"/>
</g>

<g id="tv-bar">
<!-- stems to clamps -->
<path d="M900,518 L956,518 L956,562 L900,562 Z" fill="#19191b"/>
<path d="M1170,532 L1240,532 L1240,558 L1170,558 Z" fill="#141416"/>
<!-- tapers -->
<path d="M940,504 L970,520 L964,526 L964,604 L972,611 L926,566 L922,522 Z" fill="#1b1b1d"/><path d="M967,475 L970,520 L964,526 L938,506 L944,499 Z" fill="#48484a"/>
<path d="M964,600 L972,610 L1158,610 L1171,604 L1212,556 L1212,534 L1182,494 L1168,520 L1171,528 L1171,600 L964,600 Z" fill="#1f1f21"/>
<!-- top face -->
<path d="M967,475 L1168,477 L1182,494 L1168,520 L970,520 Z" fill="url(#tvBarTop)"/>
<path d="M968,476 L1167,478" stroke="#2c2c2e" stroke-width="2"/>
<!-- front face -->
<path d="M970,520 L1168,520 L1174,532 L1175,596 L1160,610 L972,611 L964,604 L964,526 Z" fill="url(#tvBarFront)"/>
<path d="M970,521 L1168,521" stroke="#707073" stroke-width="1.600"/>
<!-- top face holes -->
<ellipse cx="989" cy="494" rx="30" ry="15.5" fill="#0b0b0c"/>
<path d="M962,500 C968,486 1008,484 1017,498 C1010,490 972,490 962,500 Z" fill="#2a2a2c"/>
<path d="M975,505 C982,503 998,503 1006,505 C1000,510 981,510 975,505 Z" fill="#f5f6f7"/><path d="M962,497 C964,488 972,483 980,481 C972,488 970,500 975,505 C968,504 963,501 962,497 Z" fill="#3a3a3d"/>
<ellipse cx="1140" cy="495" rx="30" ry="15.5" fill="#0b0b0c"/>
<path d="M1125,505 C1133,503 1151,503 1160,505 C1153,511 1132,511 1125,505 Z" fill="#f5f6f7"/><path d="M1112,498 C1114,489 1122,484 1130,482 C1122,489 1120,501 1125,506 C1118,505 1113,502 1112,498 Z" fill="#3a3a3d"/>
<ellipse cx="1064" cy="493" rx="16" ry="11" fill="#0a0a0b"/>
<ellipse cx="1064" cy="495" rx="9" ry="6" fill="#1d1d1f"/>
<ellipse cx="1035" cy="482" rx="8" ry="4.2" fill="#0a0a0b"/><ellipse cx="1092" cy="482" rx="8" ry="4.2" fill="#0a0a0b"/>
<ellipse cx="1035" cy="507" rx="8" ry="4.2" fill="#0a0a0b"/><ellipse cx="1092" cy="507" rx="8" ry="4.2" fill="#0a0a0b"/>
<!-- front face big holes -->
<ellipse cx="992" cy="564" rx="31" ry="28" fill="#161618"/>
<path d="M966,552 C974,534 1010,534 1019,552 C1012,548 974,548 966,552 Z" fill="#f5f6f7"/>
<path d="M963,560 C968,548 1016,548 1022,560 C1016,580 1004,574 992,574 C980,574 968,580 963,560 Z" fill="#0a0a0b"/>
<path d="M970,580 C980,572 1004,572 1014,580 C1008,590 976,590 970,580 Z" fill="#3e3e41"/>
<path d="M974,582 C984,578 1000,578 1010,582" stroke="#7f8083" stroke-width="1.6" fill="none"/>
<ellipse cx="992" cy="564" rx="31" ry="28" fill="none" stroke="#262628" stroke-width="2.5"/>
<ellipse cx="1143" cy="564" rx="31" ry="28" fill="#161618"/>
<path d="M1117,552 C1125,534 1161,534 1170,552 C1163,548 1125,548 1117,552 Z" fill="#f5f6f7"/>
<path d="M1114,560 C1119,548 1167,548 1173,560 C1167,580 1155,574 1143,574 C1131,574 1119,580 1114,560 Z" fill="#0a0a0b"/>
<path d="M1121,580 C1131,572 1155,572 1165,580 C1159,590 1127,590 1121,580 Z" fill="#3e3e41"/>
<path d="M1125,582 C1135,578 1151,578 1161,582" stroke="#7f8083" stroke-width="1.6" fill="none"/>
<ellipse cx="1143" cy="564" rx="31" ry="28" fill="none" stroke="#262628" stroke-width="2.5"/>
<!-- threaded center -->
<ellipse cx="1066" cy="567" rx="27" ry="24.5" fill="url(#tvThread)"/>
<path d="M1044,556 C1056,550 1076,550 1088,556 M1041,563 C1055,557 1077,557 1091,563 M1040,570 C1055,565 1077,565 1092,570 M1041,577 C1055,573 1077,573 1091,577 M1044,584 C1056,581 1076,581 1088,584" stroke="#1c1c1e" stroke-width="1.6" fill="none"/>
<path d="M1042,552 C1050,542 1082,542 1090,552 C1080,548 1052,548 1042,552 Z" fill="#1a1a1c"/>
<ellipse cx="1066" cy="567" rx="27" ry="24.5" fill="none" stroke="#242426" stroke-width="2"/>
<!-- small holes -->
<circle cx="1037" cy="539" r="8.5" fill="#0a0a0b"/><circle cx="1095" cy="539" r="8.5" fill="#0a0a0b"/>
<circle cx="1037" cy="589" r="8.5" fill="#0a0a0b"/><circle cx="1095" cy="589" r="8.5" fill="#0a0a0b"/>
</g>
<g id="tv-left"><g id="tvL-back">
<!-- clamp back plate -->
<path d="M758,502 L772,497 L900,500 L914,508 L917,560 L914,604 L900,612 L772,560 L758,522 Z" fill="#1a1a1c"/>
<path d="M758,502 L772,497 L790,500 L786,540 L772,534 L758,522 Z" fill="#343538"/>
<path d="M898,502 L914,508 L917,560 L914,604 L904,610 L900,560 Z" fill="#101011"/>
</g>
<g id="tvL-shoe">
<!-- shoe rail behind (right) and ear (left) -->
<path d="M884,636 L905,639 L918,644 L919,678 L910,685 L910,700 L884,700 Z" fill="#19191b"/>
<path d="M886,635 L905,639 L918,644 L918,651 L904,647 L886,643 Z" fill="#343437"/>
<path d="M754,698 L756,668 L771,659 L784,657 L786,700 Z" fill="#1a1a1c"/>
<!-- ball -->
<ellipse cx="835" cy="650" rx="58" ry="30" fill="#131314"/>
<path d="M781,638 C777,646 780,658 788,666 L793,662 C786,655 784,647 786,639 Z" fill="#1fb597"/>
<path d="M888,633 C895,641 896,653 892,663 L886,661 C890,652 889,643 883,636 Z" fill="#1fb597"/>
<!-- knurled knob -->
<path d="M766,686 C768,664 796,647 830,647 C864,647 893,664 896,689 L896,706 L766,706 Z" fill="url(#pKnurl3)"/>
<path d="M766,686 C768,664 796,647 830,647 C864,647 893,664 896,689" fill="none" stroke="#2f2f32" stroke-width="1.500"/>
<path d="M777,700 C780,678 804,666 830,666 C856,666 882,678 886,700 L886,712 L777,712 Z" fill="#09090a"/>
<path d="M784,706 C790,686 808,676 830,676 C852,676 872,686 878,706" fill="none" stroke="#3a3a3d" stroke-width="2.500"/>
<path d="M792,710 C798,694 812,686 830,686 C848,686 864,694 870,710" fill="none" stroke="#1c1c1e" stroke-width="4"/>
<!-- ears in front of knob -->
<path d="M746,699 L750,676 L758,668 L770,668 L773,696 Z" fill="#232325"/>
<path d="M759,674 L767,672 L768,684 L760,686 Z" fill="#0c0c0d"/>
<path d="M889,696 L893,674 L908,672 L911,690 L905,698 Z" fill="#1d1d1f"/>
<!-- side body (left) -->
<path d="M746,698 L771,696 L774,760 L750,764 L743,751 Z" fill="#18181a"/>
<!-- face -->
<path d="M770,696 L891,696 C898,702 902,706 905,710 C909,716 912,723 913.750,730 C915,737 916,743 916,750 C916,757 915,764 912.500,770 C910,777 907,782 902.500,787.500 C899,792 895,796 890,798.750 C887,801 885,803 882.500,804.400 L771,804.400 C769,803 767,801 766,798.750 C762,795 758,791 755,786 C751,781 748,776 746,770 C744,763 743,757 743,750 C743,743 744,737 746,730 C748,723 751,716 755,710 C759,705 764,700 770,696 Z" fill="url(#tvFace)"/>
<path d="M771,696 L891,696 C894,698 896,700 898,702 L763,702 C765,700 768,698 771,696 Z" fill="#4a4a4d"/>
<!-- green ring -->
<path fill-rule="evenodd" d="M771.900,753 A58.700,48 0 1 0 889.300,753 A58.700,48 0 1 0 771.900,753 Z M791.200,752.500 A39.400,33.750 0 1 1 870,752.500 A39.400,33.750 0 1 1 791.200,752.500 Z" fill="url(#tvGreen)"/>
<ellipse cx="830.600" cy="752.500" rx="49" ry="40.500" fill="none" stroke="#7fe9d1" stroke-width="3" opacity="0.450"/>
<ellipse cx="830.600" cy="752.500" rx="39.400" ry="33.750" fill="#161617"/>
<ellipse cx="831" cy="755" rx="31" ry="25" fill="#242426"/>
<ellipse cx="831" cy="756" rx="27.500" ry="21.500" fill="#101011"/>
<ellipse cx="831" cy="758" rx="21" ry="16" fill="#1d1d1f"/>
<!-- screw -->
<rect x="813" y="740" width="34" height="44" rx="14" ry="12" fill="url(#tvScrew)"/>
<path d="M815,749 C823,746 837,746 846,750 M814,756 C823,753 837,753 847,757 M814,763 C823,760 837,760 847,764 M815,770 C823,768 837,768 846,771" stroke="#8e8e88" stroke-width="1.600" fill="none"/>
<ellipse cx="830" cy="776" rx="10" ry="6" fill="#efefe9"/>
</g>
<g id="tvL-clamp">
<!-- hex plate lower black side -->
<path d="M752,604 L800,632 L860,633 L917,600 L915,618 L860,646 L802,644 L756,620 Z" fill="#0c0c0d"/>
<!-- hex plate top face -->
<path d="M780,554 L756,578 L751,592 L752,600 L804,614 L855,613 L911,582 L914,575 L880,548 L864,546 L790,546 Z" fill="#222224"/>
<path d="M780,554 L756,578 L751,592" fill="none" stroke="#3a3a3d" stroke-width="1.4"/>
<!-- chamfers -->
<path d="M752,600 L804,614 L800,632.500 L752,604 Z" fill="#2b2c2e"/>
<path d="M804,614 L855,613 L860,633 L800,632.500 Z" fill="#3c3d40"/>
<path d="M855,613 L911,582 L917,600 L860,633 Z" fill="#2a2b2d"/>
<path d="M752,600 L804,614 L855,613 L911,582" fill="none" stroke="#505155" stroke-width="1.200"/>
<!-- hole -->
<ellipse cx="830.500" cy="583" rx="35" ry="14" fill="#09090a"/>
<path d="M796,582 C801,570.500 861,570.500 865.500,582 C858,575.500 803,575.500 796,582 Z" fill="#2a2a2c"/>
<path d="M802,598 C806,586 852,586 858.500,597 C852,603 808,604 802,598 Z" fill="#25c2a3"/><path d="M808,594 C816,588.500 842,588.500 853,593" fill="none" stroke="#6fe3ca" stroke-width="1.600"/>
<ellipse cx="832" cy="601" rx="18" ry="5" fill="#0c0c0d"/>

</g>
<g id="tvL-wing">
<!-- whole wing silhouette: base -->
<path d="M673,445 C674,436 676,429 678.750,423.750 C682,417 686,412 691,408.750 C697,404 703,402 710,401 C714,400.500 718,400.500 722.500,400.600 C727,401 731,402 735,403.750 C742,407 748,410.500 753.750,413.750 C760,417.500 766,420 772.500,421.250 C777,421.500 781,420.500 785,418.750 C789,417 792,416 795,415 L855,417.500 C859,417.500 863,417 867.500,416 C873,414.500 878,413 883.750,411 C890,408 896,405 902.500,402.500 C909,400 915,398.500 921,397.500 C927,397 934,397 940,397.500 C946,399 951,401 956,403.750 C961,407 964,410.500 967.500,415 C971,420 973,425 975,430 C976,435 976.500,440 976,445 C975,450 973.500,455 971,460 C968,465 964,469 958.750,472.500 C953,476.500 946,480 940,482.500 C934,485.500 927,488 921,490 C917,492 913,494 908.750,496 C905,498 902,500 898.750,502.500 C895,505 892,507.500 890,510 C886,513 881,515.500 877.500,517.500 C875,521 874,525 873.750,530 L875,545 C862,561 800,561 788.750,544.750 L787.500,536 C787,530 785,523 782.500,517.500 C778,512 772,508.500 766,506 C763,504.500 760,503.500 757.500,502.500 L747.500,497.500 C739,494.500 731,491.500 722.500,488.750 C714,486 705,483 697.500,478.750 C690,474 683,468 678.750,461 C675,455 673,450 673,445 Z" fill="url(#tvWingBase)"/>
<!-- hub cylinder -->
<path d="M769,430 C776,452 880,452 886,428 C884,440 880,452 877.500,517.500 C875,521 874,525 873.750,530 L875,545 C862,561 800,561 788.750,544.750 L787.500,536 C787,530 785,523 782.500,517.500 C778,500 774,470 769,430 Z" fill="url(#tvHub)"/>
<path d="M769,431 C780,446 800,454 828,454 C856,454 876,446 886,429" fill="none" stroke="#55565a" stroke-width="1.800"/>
<!-- light ring under shaft -->
<path d="M788,546 C800,562.500 862,562.500 876,546" fill="none" stroke="#c3cad1" stroke-width="2.800"/>
<path d="M788,542 C800,558 862,558 875.500,542" fill="none" stroke="#0c0c0d" stroke-width="1.800"/>
<!-- top face lighter band (lobes + saddle) -->
<path d="M673,445 C674,436 676,429 678.750,423.750 C682,417 686,412 691,408.750 C697,404 703,402 710,401 C714,400.500 718,400.500 722.500,400.600 C727,401 731,402 735,403.750 C742,407 748,410.500 753.750,413.750 C760,417.500 766,420 772.500,421.250 C777,421.500 781,420.500 785,418.750 C789,417 792,416 795,415 L855,417.500 C859,417.500 863,417 867.500,416 C873,414.500 878,413 883.750,411 C890,408 896,405 902.500,402.500 C909,400 915,398.500 921,397.500 C927,397 934,397 940,397.500 C946,399 951,401 956,403.750 C961,407 964,410.500 967.500,415 C971,420 973,425 975,430 C976,435 976.500,440 976,445 C974,458 962,470 946,477 C928,484 908,474 896,460 C892,452 888,440 886,429 C876,446 856,454 828,454 C800,454 780,446 769,431 C766,444 760,458 750,470 C738,482 716,486 700,478 C684,470 675,458 673,445 Z" fill="url(#tvTop)"/>
<path d="M674,440 C675,432 677,427 679.500,423.750 C682.500,418 687,413 691.500,410 C697,405.500 703,403.500 710,402.500 C714,402 718,402 722.500,402.100 C727,402.500 731,403.500 735,405.250 C742,408.500 748,412 753.750,415.250 C760,419 766,421.500 772.500,422.750 C777,423 781,422 785,420.250" fill="none" stroke="#6a6b6f" stroke-width="1.600"/>
<path d="M867.500,417.500 C873,416 878,414.500 883.750,412.500 C890,409.500 896,406.500 902.500,404 C909,401.500 915,400 921,399 C927,398.500 934,398.500 940,399 C946,400.500 951,402.500 956,405.250 C961,408.500 964,412 967,416.500 C970.500,421 972.500,426 974,431" fill="none" stroke="#6a6b6f" stroke-width="1.600"/>
<!-- dishes -->
<ellipse cx="717.800" cy="448.600" rx="36" ry="32.500" fill="url(#tvDish)"/>
<path d="M684,458 C694,474 716,482 738,476 C726,477 700,472 684,458 Z" fill="#a0a1a4" opacity="0.800"/>
<ellipse cx="717.800" cy="448.600" rx="36" ry="32.500" fill="none" stroke="#19191b" stroke-width="2"/>
<ellipse cx="933" cy="446" rx="34.400" ry="30" fill="url(#tvDish)"/>
<path d="M904,458 C914,472 934,478 954,470 C940,474 918,470 904,458 Z" fill="#a0a1a4" opacity="0.800"/>
<ellipse cx="933" cy="446" rx="34.400" ry="30" fill="none" stroke="#19191b" stroke-width="2"/>
<!-- nub -->
<ellipse cx="825" cy="430" rx="31" ry="17" fill="#131314"/>
<ellipse cx="824" cy="426" rx="28" ry="15.500" fill="url(#tvNub)"/>
<path d="M800,424 C806,414 840,412 848,422" fill="none" stroke="#5a5b5e" stroke-width="1.500" opacity="0.700"/>
</g>
</g>
<g id="tv-right"><g id="tvR-back" transform="translate(455,2)">
<!-- clamp back plate -->
<path d="M758,502 L772,497 L900,500 L914,508 L917,560 L914,604 L900,612 L772,560 L758,522 Z" fill="#1a1a1c"/>
<path d="M758,502 L772,497 L790,500 L786,540 L772,534 L758,522 Z" fill="#343538"/>
<path d="M898,502 L914,508 L917,560 L914,604 L904,610 L900,560 Z" fill="#101011"/>
</g><g id="tvR-shoe" transform="translate(1304.4,699) scale(-1,1.02) translate(-830.6,-696)">
<!-- shoe rail behind (right) and ear (left) -->
<path d="M884,636 L905,639 L918,644 L919,678 L910,685 L910,700 L884,700 Z" fill="#19191b"/>
<path d="M886,635 L905,639 L918,644 L918,651 L904,647 L886,643 Z" fill="#343437"/>
<path d="M754,698 L756,668 L771,659 L784,657 L786,700 Z" fill="#1a1a1c"/>
<!-- ball -->
<ellipse cx="835" cy="650" rx="58" ry="30" fill="#131314"/>
<path d="M781,638 C777,646 780,658 788,666 L793,662 C786,655 784,647 786,639 Z" fill="#1fb597"/>
<path d="M888,633 C895,641 896,653 892,663 L886,661 C890,652 889,643 883,636 Z" fill="#1fb597"/>
<!-- knurled knob -->
<path d="M766,686 C768,664 796,647 830,647 C864,647 893,664 896,689 L896,706 L766,706 Z" fill="url(#pKnurl3)"/>
<path d="M766,686 C768,664 796,647 830,647 C864,647 893,664 896,689" fill="none" stroke="#2f2f32" stroke-width="1.500"/>
<path d="M777,700 C780,678 804,666 830,666 C856,666 882,678 886,700 L886,712 L777,712 Z" fill="#09090a"/>
<path d="M784,706 C790,686 808,676 830,676 C852,676 872,686 878,706" fill="none" stroke="#3a3a3d" stroke-width="2.500"/>
<path d="M792,710 C798,694 812,686 830,686 C848,686 864,694 870,710" fill="none" stroke="#1c1c1e" stroke-width="4"/>
<!-- ears in front of knob -->
<path d="M746,699 L750,676 L758,668 L770,668 L773,696 Z" fill="#232325"/>
<path d="M759,674 L767,672 L768,684 L760,686 Z" fill="#0c0c0d"/>
<path d="M889,696 L893,674 L908,672 L911,690 L905,698 Z" fill="#1d1d1f"/>
<!-- side body (left) -->
<path d="M746,698 L771,696 L774,760 L750,764 L743,751 Z" fill="#18181a"/>
<!-- face -->
<path d="M770,696 L891,696 C898,702 902,706 905,710 C909,716 912,723 913.750,730 C915,737 916,743 916,750 C916,757 915,764 912.500,770 C910,777 907,782 902.500,787.500 C899,792 895,796 890,798.750 C887,801 885,803 882.500,804.400 L771,804.400 C769,803 767,801 766,798.750 C762,795 758,791 755,786 C751,781 748,776 746,770 C744,763 743,757 743,750 C743,743 744,737 746,730 C748,723 751,716 755,710 C759,705 764,700 770,696 Z" fill="url(#tvFace)"/>
<path d="M771,696 L891,696 C894,698 896,700 898,702 L763,702 C765,700 768,698 771,696 Z" fill="#4a4a4d"/>
<!-- green ring -->
<path fill-rule="evenodd" d="M771.900,753 A58.700,48 0 1 0 889.300,753 A58.700,48 0 1 0 771.900,753 Z M791.200,752.500 A39.400,33.750 0 1 1 870,752.500 A39.400,33.750 0 1 1 791.200,752.500 Z" fill="url(#tvGreen)"/>
<ellipse cx="830.600" cy="752.500" rx="49" ry="40.500" fill="none" stroke="#7fe9d1" stroke-width="3" opacity="0.450"/>
<ellipse cx="830.600" cy="752.500" rx="39.400" ry="33.750" fill="#161617"/>
<ellipse cx="831" cy="755" rx="31" ry="25" fill="#242426"/>
<ellipse cx="831" cy="756" rx="27.500" ry="21.500" fill="#101011"/>
<ellipse cx="831" cy="758" rx="21" ry="16" fill="#1d1d1f"/>
<!-- screw -->
<rect x="813" y="740" width="34" height="44" rx="14" ry="12" fill="url(#tvScrew)"/>
<path d="M815,749 C823,746 837,746 846,750 M814,756 C823,753 837,753 847,757 M814,763 C823,760 837,760 847,764 M815,770 C823,768 837,768 846,771" stroke="#8e8e88" stroke-width="1.600" fill="none"/>
<ellipse cx="830" cy="776" rx="10" ry="6" fill="#efefe9"/>
</g><g id="tvR-clamp" transform="translate(1215,554) scale(0.975,1.06) translate(-751,-554)">
<!-- hex plate lower black side -->
<path d="M752,604 L800,632 L860,633 L917,600 L915,618 L860,646 L802,644 L756,620 Z" fill="#0c0c0d"/>
<!-- hex plate top face -->
<path d="M780,554 L756,578 L751,592 L752,600 L804,614 L855,613 L911,582 L914,575 L880,548 L864,546 L790,546 Z" fill="#222224"/>
<path d="M780,554 L756,578 L751,592" fill="none" stroke="#3a3a3d" stroke-width="1.4"/>
<!-- chamfers -->
<path d="M752,600 L804,614 L800,632.500 L752,604 Z" fill="#2b2c2e"/>
<path d="M804,614 L855,613 L860,633 L800,632.500 Z" fill="#3c3d40"/>
<path d="M855,613 L911,582 L917,600 L860,633 Z" fill="#2a2b2d"/>
<path d="M752,600 L804,614 L855,613 L911,582" fill="none" stroke="#505155" stroke-width="1.200"/>
<!-- hole -->
<ellipse cx="830.500" cy="583" rx="35" ry="14" fill="#09090a"/>
<path d="M796,582 C801,570.500 861,570.500 865.500,582 C858,575.500 803,575.500 796,582 Z" fill="#2a2a2c"/>
<path d="M802,598 C806,586 852,586 858.500,597 C852,603 808,604 802,598 Z" fill="#25c2a3"/><path d="M808,594 C816,588.500 842,588.500 853,593" fill="none" stroke="#6fe3ca" stroke-width="1.600"/>
<ellipse cx="832" cy="601" rx="18" ry="5" fill="#0c0c0d"/>

</g><g id="tvR-wing" transform="translate(469.5,4)">
<!-- whole wing silhouette: base -->
<path d="M673,445 C674,436 676,429 678.750,423.750 C682,417 686,412 691,408.750 C697,404 703,402 710,401 C714,400.500 718,400.500 722.500,400.600 C727,401 731,402 735,403.750 C742,407 748,410.500 753.750,413.750 C760,417.500 766,420 772.500,421.250 C777,421.500 781,420.500 785,418.750 C789,417 792,416 795,415 L855,417.500 C859,417.500 863,417 867.500,416 C873,414.500 878,413 883.750,411 C890,408 896,405 902.500,402.500 C909,400 915,398.500 921,397.500 C927,397 934,397 940,397.500 C946,399 951,401 956,403.750 C961,407 964,410.500 967.500,415 C971,420 973,425 975,430 C976,435 976.500,440 976,445 C975,450 973.500,455 971,460 C968,465 964,469 958.750,472.500 C953,476.500 946,480 940,482.500 C934,485.500 927,488 921,490 C917,492 913,494 908.750,496 C905,498 902,500 898.750,502.500 C895,505 892,507.500 890,510 C886,513 881,515.500 877.500,517.500 C875,521 874,525 873.750,530 L875,545 C862,561 800,561 788.750,544.750 L787.500,536 C787,530 785,523 782.500,517.500 C778,512 772,508.500 766,506 C763,504.500 760,503.500 757.500,502.500 L747.500,497.500 C739,494.500 731,491.500 722.500,488.750 C714,486 705,483 697.500,478.750 C690,474 683,468 678.750,461 C675,455 673,450 673,445 Z" fill="url(#tvWingBase)"/>
<!-- hub cylinder -->
<path d="M769,430 C776,452 880,452 886,428 C884,440 880,452 877.500,517.500 C875,521 874,525 873.750,530 L875,545 C862,561 800,561 788.750,544.750 L787.500,536 C787,530 785,523 782.500,517.500 C778,500 774,470 769,430 Z" fill="url(#tvHub)"/>
<path d="M769,431 C780,446 800,454 828,454 C856,454 876,446 886,429" fill="none" stroke="#55565a" stroke-width="1.800"/>
<!-- light ring under shaft -->
<path d="M788,546 C800,562.500 862,562.500 876,546" fill="none" stroke="#c3cad1" stroke-width="2.800"/>
<path d="M788,542 C800,558 862,558 875.500,542" fill="none" stroke="#0c0c0d" stroke-width="1.800"/>
<!-- top face lighter band (lobes + saddle) -->
<path d="M673,445 C674,436 676,429 678.750,423.750 C682,417 686,412 691,408.750 C697,404 703,402 710,401 C714,400.500 718,400.500 722.500,400.600 C727,401 731,402 735,403.750 C742,407 748,410.500 753.750,413.750 C760,417.500 766,420 772.500,421.250 C777,421.500 781,420.500 785,418.750 C789,417 792,416 795,415 L855,417.500 C859,417.500 863,417 867.500,416 C873,414.500 878,413 883.750,411 C890,408 896,405 902.500,402.500 C909,400 915,398.500 921,397.500 C927,397 934,397 940,397.500 C946,399 951,401 956,403.750 C961,407 964,410.500 967.500,415 C971,420 973,425 975,430 C976,435 976.500,440 976,445 C974,458 962,470 946,477 C928,484 908,474 896,460 C892,452 888,440 886,429 C876,446 856,454 828,454 C800,454 780,446 769,431 C766,444 760,458 750,470 C738,482 716,486 700,478 C684,470 675,458 673,445 Z" fill="url(#tvTop)"/>
<path d="M674,440 C675,432 677,427 679.500,423.750 C682.500,418 687,413 691.500,410 C697,405.500 703,403.500 710,402.500 C714,402 718,402 722.500,402.100 C727,402.500 731,403.500 735,405.250 C742,408.500 748,412 753.750,415.250 C760,419 766,421.500 772.500,422.750 C777,423 781,422 785,420.250" fill="none" stroke="#6a6b6f" stroke-width="1.600"/>
<path d="M867.500,417.500 C873,416 878,414.500 883.750,412.500 C890,409.500 896,406.500 902.500,404 C909,401.500 915,400 921,399 C927,398.500 934,398.500 940,399 C946,400.500 951,402.500 956,405.250 C961,408.500 964,412 967,416.500 C970.500,421 972.500,426 974,431" fill="none" stroke="#6a6b6f" stroke-width="1.600"/>
<!-- dishes -->
<ellipse cx="717.800" cy="448.600" rx="36" ry="32.500" fill="url(#tvDish)"/>
<path d="M684,458 C694,474 716,482 738,476 C726,477 700,472 684,458 Z" fill="#a0a1a4" opacity="0.800"/>
<ellipse cx="717.800" cy="448.600" rx="36" ry="32.500" fill="none" stroke="#19191b" stroke-width="2"/>
<ellipse cx="933" cy="446" rx="34.400" ry="30" fill="url(#tvDish)"/>
<path d="M904,458 C914,472 934,478 954,470 C940,474 918,470 904,458 Z" fill="#a0a1a4" opacity="0.800"/>
<ellipse cx="933" cy="446" rx="34.400" ry="30" fill="none" stroke="#19191b" stroke-width="2"/>
<!-- nub -->
<ellipse cx="825" cy="430" rx="31" ry="17" fill="#131314"/>
<ellipse cx="824" cy="426" rx="28" ry="15.500" fill="url(#tvNub)"/>
<path d="M800,424 C806,414 840,412 848,422" fill="none" stroke="#5a5b5e" stroke-width="1.500" opacity="0.700"/>
</g></g>

<g id="kettle">
<clipPath id="kHandleClip"><path clip-rule="evenodd" d="M746,1137 L746,1035 C746,1010 752,994 762,982 C774,966 794,956 815,953 C840,951 870,951.500 898,951.500 C930,951.500 945,952 964,953 C984,955 1008,964 1023,980 C1034,992 1041,1010 1044,1034 L1045.500,1144 L987,1127 L987,1036 C987,1026 985,1020 981,1017 C976,1012 970,1011 962,1011 L832,1011 C822,1011 814,1014 809,1022 C806,1027 805.500,1032 805.500,1038 L805.500,1116 Z"/></clipPath>
<filter id="kBlur3" filterUnits="userSpaceOnUse" x="700" y="900" width="400" height="520"><feGaussianBlur stdDeviation="3.2"/></filter>
<filter id="kBlur6" filterUnits="userSpaceOnUse" x="700" y="900" width="400" height="520"><feGaussianBlur stdDeviation="6"/></filter>
<filter id="kBlur1" filterUnits="userSpaceOnUse" x="700" y="900" width="400" height="520"><feGaussianBlur stdDeviation="1.2"/></filter>
<g clip-path="url(#kHandleClip)">
<rect x="730" y="940" width="330" height="220" fill="#8a8a8a"/>
<!-- bright body of tube, offset to outer top-left -->
<path d="M771,1160 L771,1026 A47,47 0 0 1 818,977 L971,977 A45,45 0 0 1 1014,1024 L1014,1160" fill="none" stroke="#cfcfcf" stroke-width="36" filter="url(#kBlur6)"/>
<path d="M768,1160 L768,1024 A48,48 0 0 1 816,973 L972,973 A42,42 0 0 1 1011,1020 L1011,1160" fill="none" stroke="#f4f4f4" stroke-width="17" filter="url(#kBlur6)"/>
<!-- darker right side of right leg -->
<path d="M1043,1160 L1042,1034 C1039,1010 1032,994 1022,982" fill="none" stroke="#4e4e4e" stroke-width="16" filter="url(#kBlur6)"/>
<!-- left outer edge slightly dark -->
<path d="M746,1160 L746,1035 C746,1010 752,994 762,982" fill="none" stroke="#7a7a7a" stroke-width="8" filter="url(#kBlur3)"/>
<!-- inner face band -->
<path d="M800,1160 L800,1038 C800,1024 806,1012 818,1007 C824,1005 830,1004.500 838,1004.500 L962,1004.500 C972,1004.500 980,1008 985,1014" fill="none" stroke="#5e5e5e" stroke-width="5" filter="url(#kBlur1)"/>
<path d="M804,1160 L804,1038 C804,1030 806,1022 811,1017 C817,1011 824,1009.500 834,1009.500 L960,1009.500" fill="none" stroke="#9a9a9a" stroke-width="4"/>
<path d="M990,1160 L990,1036" fill="none" stroke="#c8c8c8" stroke-width="6" filter="url(#kBlur1)"/>
</g>
<!-- ball -->
<path d="M896,1095 C980,1095 1048,1160 1048,1242 C1048,1296 1024,1340 1000,1360 C975,1378 930,1384 884,1384 C846,1384 812,1378 792,1362 C766,1340 744,1296 744,1240 C744,1160 812,1095 896,1095 Z" fill="url(#kBall)"/>
<path d="M752,1290 C770,1340 790,1358 800,1364 C830,1380 860,1384 884,1384 C930,1384 975,1378 1000,1360 C1024,1340 1040,1300 1046,1270 C1030,1330 980,1366 890,1368 C820,1368 775,1334 752,1290 Z" fill="#0a0a0a" opacity="0.55" filter="url(#kBlur3)"/>
<!-- collars -->
<path d="M748,1135.500 L800,1116 L814,1120.500 C800,1130 784,1146 770,1164 Z" fill="url(#kCollar)"/>
<path d="M983,1125 L1012,1138 L1036,1140.500 L1042,1144 L1021,1174 L996,1169.500 L981,1155 L972,1135.500 Z" fill="url(#kCollar)"/>
<path d="M984,1126 L1012,1139 L1040,1142.500" stroke="#b8b8b8" stroke-width="2.2" fill="none"/>
<!-- label -->
<path d="M814,1193.600 L859,1193.600 Q870,1193.600 870,1205 L869,1299 Q868.500,1311 857,1311 L811,1311 Q799.500,1311 799.500,1299 C799,1270 801,1235 803.400,1205 Q803.400,1193.600 814,1193.600 Z" fill="url(#kLabel)" stroke="#ececec" stroke-width="2"/>
</g>

<g class="dim">
<!-- 9.5in -->
<line x1="56" y1="240.4" x2="132" y2="240.4"/><line x1="94.5" y1="242.2" x2="94.5" y2="745.6"/>
<line x1="94.5" y1="858" x2="94.5" y2="1358.5"/><line x1="56" y1="1358.5" x2="132" y2="1358.5"/>
<!-- 2in -->
<line x1="554" y1="393.5" x2="630" y2="393.5"/><line x1="592.5" y1="395.4" x2="592.5" y2="558.7"/>
<line x1="592.5" y1="647" x2="592.5" y2="815.4"/><line x1="554" y1="815.4" x2="630" y2="815.4"/>
<!-- 3.6in -->
<line x1="146" y1="934.4" x2="222" y2="934.4"/><line x1="184.5" y1="936.3" x2="184.5" y2="1099.7"/>
<line x1="184.5" y1="1188" x2="184.5" y2="1356.4"/><line x1="146" y1="1356.4" x2="222" y2="1356.4"/>
<!-- 4.5in -->
<line x1="670.5" y1="295" x2="670.5" y2="371"/><line x1="672" y1="345.4" x2="930" y2="345.4"/>
<line x1="1142" y1="345.4" x2="1449" y2="345.4"/><line x1="1450.5" y1="295" x2="1450.5" y2="371"/>
</g>
<g class="t">
<text x="35" y="823" font-size="64" letter-spacing="5.4">9.5in</text>
<text x="546.5" y="629" font-size="64" letter-spacing="5">2in</text>
<text x="107" y="1168" font-size="64" letter-spacing="5.2">3.6in</text>
<text x="959" y="371" font-size="64" letter-spacing="5.6">4.5in</text>
<text y="1452" font-size="55"><tspan x="1035" textLength="183" lengthAdjust="spacing">Weight</tspan><tspan x="1217">： </tspan><tspan x="1272" textLength="164" lengthAdjust="spacing">0.58lb</tspan></text>
<text y="1530" font-size="55"><tspan x="1035" textLength="131" lengthAdjust="spacing">Max </tspan><tspan x="1166" textLength="227" lengthAdjust="spacing">Palyload</tspan><tspan x="1391">： </tspan><tspan x="1446" textLength="112" lengthAdjust="spacing">11lb</tspan></text>
<text class="klabel" x="814" y="1243.7" font-size="54" textLength="46" lengthAdjust="spacingAndGlyphs">11</text>
<text class="klabel" x="813.5" y="1295.8" font-size="53" textLength="48" lengthAdjust="spacingAndGlyphs">lb</text>
</g>
</svg>
</body>
</html>
